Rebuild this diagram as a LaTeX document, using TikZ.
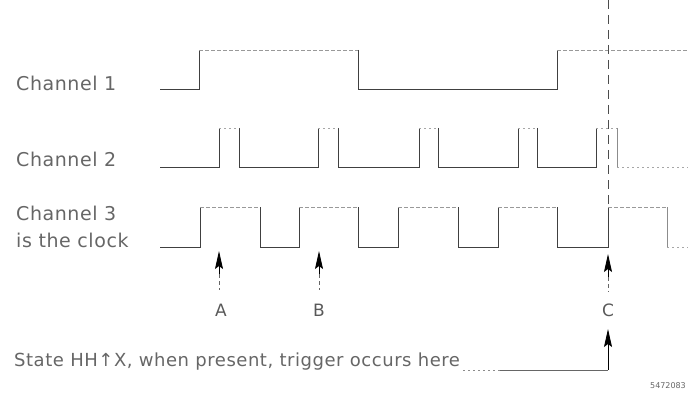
\documentclass[tikz,border=0pt]{standalone}
\usepackage{fontspec}
\setmainfont{DejaVu Sans}
\usetikzlibrary{arrows.meta}
\begin{document}
\begin{tikzpicture}[x=1pt,y=-1pt,
  wave/.style={draw=black!75,line width=0.8pt},
  faint/.style={draw=black!40,line width=0.6pt,dash pattern=on 4pt off 2pt},
  trail/.style={draw=black!35,line width=0.6pt,dash pattern=on 2pt off 3pt},
  lbl/.style={font=\addfontfeatures{LetterSpace=3}\fontsize{19}{22}\selectfont,text=black!60,inner sep=0pt,anchor=west},
  notelbl/.style={font=\addfontfeatures{LetterSpace=3}\fontsize{18}{22}\selectfont,text=black!60,inner sep=0pt,anchor=west},
  letter/.style={font=\fontsize{17}{20}\selectfont,text=black!65,inner sep=0pt},
  trig/.style={draw=black,line width=0.9pt,-{Stealth[length=18pt,width=8pt,inset=3pt]}},
  stem/.style={draw=black!60,line width=0.6pt,dash pattern=on 4pt off 3pt},
  cursor/.style={draw=black!70,line width=0.6pt,dash pattern=on 9pt off 6pt}]
\useasboundingbox (0,0) rectangle (688,401);
% labels
\node[lbl] (c1) at (16,83) {Channel 1};
\node[lbl] (c2) at (16,159) {Channel 2};
\node[lbl] (c3) at (16,213) {Channel 3};
\node[lbl] (c3b) at (16,240) {is the clock};
% channel 1
\draw[wave] (160,89) -- (199,89) -- (199,50);
\draw[faint] (199,50) -- (358,50);
\draw[wave] (358,50) -- (358,89) -- (557,89) -- (557,50);
\draw[faint] (557,50) -- (688,50);
% channel 2
\draw[wave] (160,167) -- (219,167) -- (219,128);
\draw[wave] (239,128) -- (239,167) -- (318,167) -- (318,128);
\draw[wave] (338,128) -- (338,167) -- (419,167) -- (419,128);
\draw[wave] (438,128) -- (438,167) -- (518,167) -- (518,128);
\draw[wave] (537,128) -- (537,167) -- (596,167) -- (596,128);
\draw[wave,draw=black!45] (617,128) -- (617,167);
\foreach \a/\b in {219/239,318/338,419/438,518/537,596/617}
  \draw[trail] (\a,128) -- (\b,128);
\draw[trail] (617,167) -- (688,167);
% channel 3
\draw[wave] (160,247) -- (200,247) -- (200,207);
\draw[faint] (200,207) -- (260,207);
\draw[wave] (260,207) -- (260,247) -- (299,247) -- (299,207);
\draw[faint] (299,207) -- (358,207);
\draw[wave] (358,207) -- (358,247) -- (398,247) -- (398,207);
\draw[faint] (398,207) -- (458,207);
\draw[wave] (458,207) -- (458,247) -- (498,247) -- (498,207);
\draw[faint] (498,207) -- (557,207);
\draw[wave] (557,207) -- (557,247) -- (608,247) -- (608,207);
\draw[faint] (608,207) -- (667,207);
\draw[wave,draw=black!45] (667,207) -- (667,247);
\draw[trail] (667,247) -- (688,247);
% trigger cursor
\coordinate (ctop) at (608,0);
\coordinate (cbot) at (608,207);
\draw[cursor] (ctop) -- (cbot);
% A, B, C markers
\node[letter] (A) at (221,310) {A};
\node[letter] (B) at (319,310) {B};
\node[letter] (C) at (608,310) {C};
\coordinate (Atip) at (219,251); \coordinate (Abase) at (219,274);
\coordinate (Btip) at (319,251); \coordinate (Bbase) at (319,274);
\coordinate (Ctip) at (608,254); \coordinate (Cbase) at (608,277);
\draw[trig] (Abase) -- (Atip);
\draw[trig] (Bbase) -- (Btip);
\draw[trig] (Cbase) -- (Ctip);
\draw[stem] (Abase) -- (219,290);
\draw[stem] (Bbase) -- (319,290);
\draw[stem] (Cbase) -- (608,292);
% state trigger note
\node[notelbl] (note) at (14,362) {State HH↑X, when present, trigger occurs here};
\coordinate (lead) at (608,370);
\coordinate (ntip) at (608,329);
\draw[trail,draw=black!45] (note.east |- lead) ++(3,0) -- (500,370);
\draw[draw=black!60,line width=0.6pt] (500,370) -- (lead);
\draw[trig] (lead) -- (ntip);
% figure number
\node[font=\fontsize{8}{10}\selectfont,text=black!60,inner sep=0pt,anchor=east] (fig) at (686,386) {5472083};
\end{tikzpicture}
\end{document}
